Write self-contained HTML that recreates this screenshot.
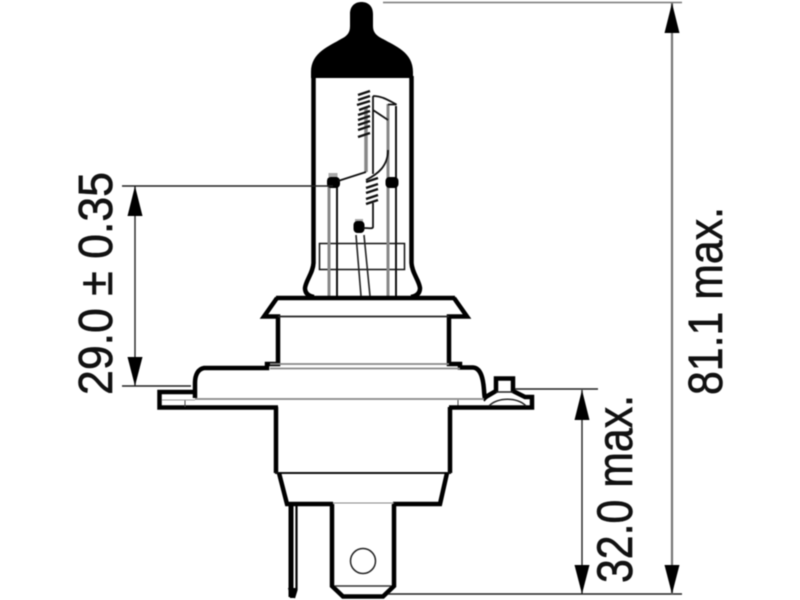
<!DOCTYPE html>
<html><head><meta charset="utf-8"><style>
html,body{margin:0;padding:0;background:#fff;width:800px;height:600px;overflow:hidden}
svg{display:block;filter:blur(0.4px)}
text{font-family:"Liberation Sans",sans-serif;fill:#111;stroke:#111;stroke-width:0.6px}
</style></head><body>
<svg width="800" height="600" viewBox="0 0 800 600" xmlns="http://www.w3.org/2000/svg">
<g fill="none" stroke-linejoin="miter">
<!-- bulb top -->
<path fill="#000" stroke="none" d="M350 14 C350 6 355 2 361.5 2 C368 2 373 6 373 14 L373 26 C373 33 377 36 383 39 C395 46 413 52 413 72 L413 78 L311 78 L311 72 C311 52 330 46 341 39 C347 36 350 33 350 26 Z"/>
<path stroke="#000" stroke-width="4.500" d="M313.500 76 L313.500 263 C313 273 306 280 305 288 C305 293 308 296 314 297"/>
<path stroke="#000" stroke-width="4.500" d="M411.500 76 L411.500 263 C412 273 419 280 420 288 C420 293 417 296 411 297"/>
<!-- inner -->
<rect x="319.500" y="243.500" width="85" height="26" stroke="#111" stroke-width="1.500"/>
<path stroke="#888" stroke-width="3" d="M329 178V296M388 104V296"/>
<path stroke="#111" stroke-width="2" d="M337 178V296M396 106V296"/>
<path stroke="#222" stroke-width="1.600" d="M356 235L361 296M364 235L370 296"/>
<rect x="328.500" y="173" width="9" height="7" fill="#aaa" stroke="none"/>
<rect x="355" y="219" width="8" height="6" fill="#aaa" stroke="none"/>
<rect x="327" y="177" width="13" height="11" rx="4" fill="#000" stroke="none"/>
<rect x="385.500" y="177" width="13" height="11" rx="4" fill="#000" stroke="none"/>
<rect x="353.500" y="221" width="11" height="12" rx="4" fill="#000" stroke="none"/>
<!-- filament supports -->
<path stroke="#888" stroke-width="3.500" d="M366 108V172"/>
<path stroke="#111" stroke-width="1.800" d="M338 181L366 172"/>
<path stroke="#111" stroke-width="1.800" d="M373 96V174M373 96C382 96 388 100 396.500 104.500H388M373 110L388 120"/>
<path stroke="#111" stroke-width="1.800" d="M388 150C388 166 378 174 366 180"/>
<path stroke="#111" stroke-width="1.800" d="M373 203V227C373 229 369 228 363 228"/>
<!-- coils -->
<path stroke="#111" stroke-width="2.300" d="M358 95L370 91M358 100L370 96M357 105L370 101M359 110L370 106M358 115L370 111M358 120L370 116M358 125L370 121M358 130L370 126M358 137L370 133"/>
<path stroke="#111" stroke-width="2.300" d="M366 182L378 178M366 188L378 184M366 193L378 189M366 199L378 195M366 204L378 200"/>
<!-- base top flange -->
<path stroke="#000" stroke-width="4.500" d="M276 298H455"/>
<path stroke="#000" stroke-width="4.500" d="M277 298L264 316.500H278V364H267V368H204C198 369 195 375 195 383V398"/>
<path stroke="#000" stroke-width="4.500" d="M454 298L467 316.500H449V364H460V367.500H473C480 368 483 376 484 390C484.500 398 485 399 486 400"/>
<path stroke="#222" stroke-width="1.800" d="M278 316.500H449"/>
<path stroke="#888" stroke-width="1.800" d="M270 364H449M270 368.500H460"/>
<path stroke="#888" stroke-width="1.800" d="M195 399H484"/>
<!-- left flange -->
<path stroke="#000" stroke-width="4.500" d="M195 392H159.500V407.500H278"/>
<path stroke="#444" stroke-width="1" d="M185 400V407M458 400V407"/>
<path stroke="#999" stroke-width="1" d="M162 400H195"/>
<!-- right flange -->
<path stroke="#000" stroke-width="4.500" d="M449 407.500H532V397H525L513 391V378.500H496V391L484 398"/>
<path stroke="#222" stroke-width="1.500" d="M489 406C497 397 518 397 526 406M496 392H513"/>
<!-- lower body -->
<path stroke="#000" stroke-width="4.500" d="M276 407V473M450 407V473"/>
<path stroke="#111" stroke-width="2" d="M275 473H451"/>
<path stroke="#000" stroke-width="4.500" d="M279 473L287 504H333M447 473L440 504H393"/>
<path stroke="#888" stroke-width="1" d="M333 503H394"/>
<!-- left blade -->
<path stroke="#000" stroke-width="5" d="M291 504V597"/>
<path stroke="#000" stroke-width="2.200" d="M296.500 504V590L294 598"/>
<path fill="#000" stroke="none" d="M288 588H296L294 598H290Z"/>
<!-- centre blade -->
<path stroke="#000" stroke-width="4.500" d="M332 504V586L343 596.500H383L394 586V504"/>
<path stroke="#333" stroke-width="1.500" d="M335 586H391"/>
<circle cx="363" cy="561" r="12.500" stroke="#222" stroke-width="1.500"/>
<!-- dimensions -->
<path stroke="#222" stroke-width="1.400" d="M122 186H333M122 386H191M135 186V386"/>
<path stroke="#222" stroke-width="1.400" d="M515 389H598M582 390V594M388 594H682"/>
<path stroke="#777" stroke-width="1.500" d="M383 2.500H682"/>
<path stroke="#777" stroke-width="2.200" d="M672 3V594"/>
<g fill="#000" stroke="none">
<path d="M135 186L142.500 216H127.500Z"/><path d="M135 386L142.500 357H127.500Z"/>
<path d="M582 390L589.500 420H574.500Z"/><path d="M582 594L589.500 565H574.500Z"/>
<path d="M672 3L679.500 33H664.500Z"/><path d="M672 594L679.500 565H664.500Z"/>
</g>
</g>
<text transform="translate(112,395) rotate(-90)" font-size="48" textLength="223" lengthAdjust="spacingAndGlyphs">29.0 ± 0.35</text>
<text transform="translate(632,583) rotate(-90)" font-size="50" textLength="188" lengthAdjust="spacingAndGlyphs">32.0 max.</text>
<text transform="translate(722,395) rotate(-90)" font-size="48" textLength="188" lengthAdjust="spacingAndGlyphs">81.1 max.</text>
</svg>
</body></html>
